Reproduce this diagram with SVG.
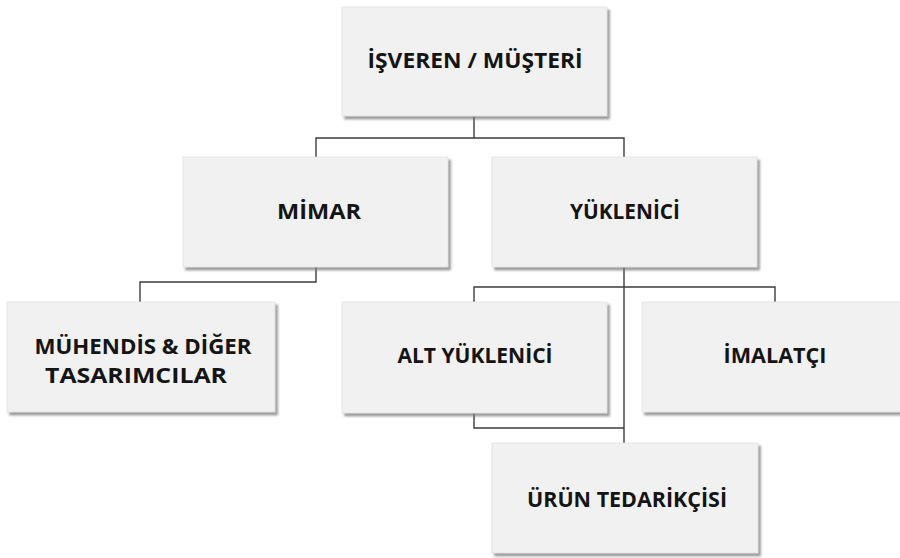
<svg xmlns="http://www.w3.org/2000/svg" width="900" height="558" viewBox="0 0 900 558">
  <defs>
    <filter id="shadow" x="-10%" y="-10%" width="125%" height="130%">
      <feDropShadow dx="2.5" dy="3" stdDeviation="1.3" flood-color="#7a7a7a" flood-opacity="0.75"/>
    </filter>
    <style>
      .box { fill: #f1f1f1; stroke: #e2e2e2; stroke-width: 0.8; filter: url(#shadow); }
      .label { font-family: "Open Sans", "Liberation Sans", sans-serif; font-weight: 700; font-size: 20.5px; fill: #141414; text-anchor: middle; }
      .link { fill: none; stroke: #3c3c3c; stroke-width: 1.4; }
    </style>
  </defs>
  <rect width="900" height="558" fill="#ffffff"/>

  <!-- connectors -->
  <g id="connectors">
    <path class="link" d="M474 116 V138 M316 157 V138 H624 V157"/>
    <path class="link" d="M316 267 V282 H140 V302"/>
    <path class="link" d="M624 267 V443"/>
    <path class="link" d="M474 302 V287 H775 V302"/>
    <path class="link" d="M474 413 V428 H624"/>
  </g>

  <g id="isveren">
    <rect class="box" x="342" y="7" width="265" height="109"/>
    <text class="label" x="475" y="68" textLength="215" lengthAdjust="spacingAndGlyphs">İŞVEREN / MÜŞTERİ</text>
  </g>

  <g id="mimar">
    <rect class="box" x="183" y="157" width="265" height="110"/>
    <text class="label" x="319" y="219" textLength="84" lengthAdjust="spacingAndGlyphs">MİMAR</text>
  </g>

  <g id="yuklenici">
    <rect class="box" x="492" y="157" width="265" height="110"/>
    <text class="label" x="625" y="219" textLength="110" lengthAdjust="spacingAndGlyphs">YÜKLENİCİ</text>
  </g>

  <g id="muhendis">
    <rect class="box" x="7" y="302" width="268" height="110"/>
    <text class="label" x="143" y="354" textLength="217" lengthAdjust="spacingAndGlyphs">MÜHENDİS &amp; DİĞER</text>
    <text class="label" x="136" y="383" textLength="182" lengthAdjust="spacingAndGlyphs">TASARIMCILAR</text>
  </g>

  <g id="alt-yuklenici">
    <rect class="box" x="342" y="302" width="265" height="111"/>
    <text class="label" x="475" y="363" textLength="155" lengthAdjust="spacingAndGlyphs">ALT YÜKLENİCİ</text>
  </g>

  <g id="imalatci">
    <rect class="box" x="642" y="302" width="265" height="110"/>
    <text class="label" x="775" y="363" textLength="103" lengthAdjust="spacingAndGlyphs">İMALATÇI</text>
  </g>

  <g id="urun-tedarikcisi">
    <rect class="box" x="492" y="443" width="266" height="110"/>
    <text class="label" x="627" y="507" textLength="200" lengthAdjust="spacingAndGlyphs">ÜRÜN TEDARİKÇİSİ</text>
  </g>
</svg>
